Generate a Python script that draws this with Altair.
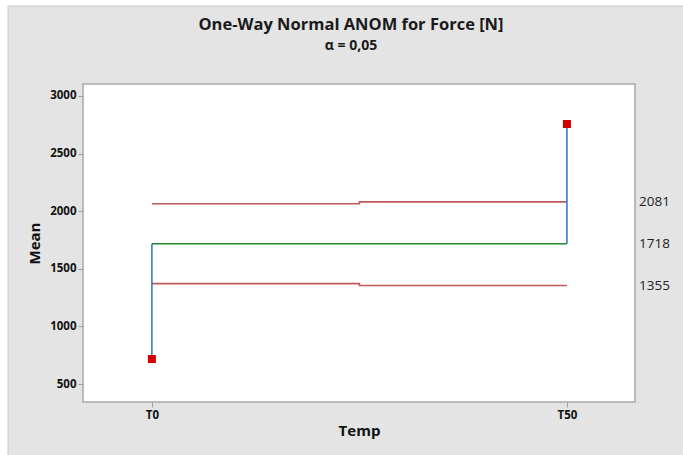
import altair as alt
import pandas as pd

# ---- data ----
temps = ["T0", "T50"]
means = [717, 2757]
center = 1718
udl = [2065, 2081]
ldl = [1371, 1355]
right_labels = [2081, 1718, 1355]
title_text = "One-Way Normal ANOM for Force [N]"
subtitle_text = "α = 0,05"

df = pd.DataFrame({
    "idx": list(range(len(temps))),
    "Temp": temps,
    "Mean": means,
    "Center": [center] * len(temps),
    "UDL": udl,
    "LDL": ldl,
})
lab_df = pd.DataFrame({"v": right_labels, "txt": [str(v) for v in right_labels]})
center_df = pd.DataFrame({"x0": [0], "x1": [len(temps) - 1], "c": [center]})
one = pd.DataFrame({"a": [0]})

W, H = 552, 318
FONT = "Open Sans"

xscale = alt.Scale(domain=[-0.166, 1.164], nice=False, zero=False)
yscale = alt.Scale(domain=[344, 3104], nice=False, zero=False)

x_axis = alt.Axis(
    values=[0, 1],
    labelExpr="datum.value == 0 ? 'T0' : 'T50'",
    title="Temp",
    titleFont=FONT, titleFontSize=15, titleFontWeight="bold", titleColor="#111",
    titlePadding=3,
    labelFont=FONT, labelFontSize=11.5, labelFontWeight="bold", labelColor="#111",
    labelPadding=2,
    tickColor="#a0a0a0", tickSize=5, domain=False, grid=False, zindex=2,
)
y_axis = alt.Axis(
    values=[500, 1000, 1500, 2000, 2500, 3000],
    format="d",
    title="Mean",
    titleFont=FONT, titleFontSize=15, titleFontWeight="bold", titleColor="#111",
    titlePadding=7,
    labelFont=FONT, labelFontSize=11.5, labelFontWeight="bold", labelColor="#111",
    labelPadding=2,
    tickColor="#a0a0a0", tickSize=5, domain=False, grid=False, zindex=2,
)

base = alt.Chart(df)

# outer grey panel and white plot frame (decorations)
panel = alt.Chart(one).mark_rect(
    fill="#e4e4e4", stroke="#c8c8c8", strokeWidth=1
).encode(x=alt.value(-75), x2=alt.value(W + 60), y=alt.value(-78), y2=alt.value(H + 60))
frame = alt.Chart(one).mark_rect(
    fill="white", stroke="#a8a8a8", strokeWidth=1.5
).encode(x=alt.value(0), x2=alt.value(W), y=alt.value(0), y2=alt.value(H))

title_mark = alt.Chart(one).mark_text(
    text=title_text, font=FONT, fontSize=16.5, fontWeight="bold", color="#1a1a1a",
    align="center", baseline="middle",
).encode(x=alt.value(268), y=alt.value(-59))
subtitle_mark = alt.Chart(one).mark_text(
    text=subtitle_text, font=FONT, fontSize=14, fontWeight="bold", color="#1a1a1a",
    align="center", baseline="middle",
).encode(x=alt.value(268), y=alt.value(-38))

x_enc = alt.X("idx:Q", scale=xscale, axis=x_axis)

upper = base.mark_line(interpolate="step", color="#c0595c", strokeWidth=1.6).encode(
    x=x_enc, y=alt.Y("UDL:Q", scale=yscale, axis=y_axis)
)
lower = base.mark_line(interpolate="step", color="#c0595c", strokeWidth=1.6).encode(
    x=alt.X("idx:Q", scale=xscale), y=alt.Y("LDL:Q", scale=yscale)
)
center_line = alt.Chart(center_df).mark_rule(color="#1a8a2a", strokeWidth=1.5).encode(
    x=alt.X("x0:Q", scale=xscale), x2="x1:Q", y=alt.Y("c:Q", scale=yscale)
)
stems = base.mark_rule(color="#2a72c4", strokeWidth=1.5).encode(
    x=alt.X("idx:Q", scale=xscale), y=alt.Y("Mean:Q", scale=yscale), y2="Center:Q"
)
pts = base.mark_square(color="#d40000", size=64, opacity=1).encode(
    x=alt.X("idx:Q", scale=xscale), y=alt.Y("Mean:Q", scale=yscale)
)
labels = alt.Chart(lab_df).mark_text(
    align="left", baseline="middle", font=FONT, fontSize=13.5, color="#222"
).encode(x=alt.value(W + 4), y=alt.Y("v:Q", scale=yscale), text="txt:N")

chart = alt.layer(
    panel, frame, title_mark, subtitle_mark, upper, lower, center_line, stems, pts, labels
).properties(
    width=W, height=H,
    autosize=alt.AutoSizeParams(type="none"),
    padding={"left": 83, "top": 84, "right": 48, "bottom": 53},
).configure(background="white").configure_view(stroke=None)

chart.save("out.html", embed_options={"renderer": "svg", "actions": False})
